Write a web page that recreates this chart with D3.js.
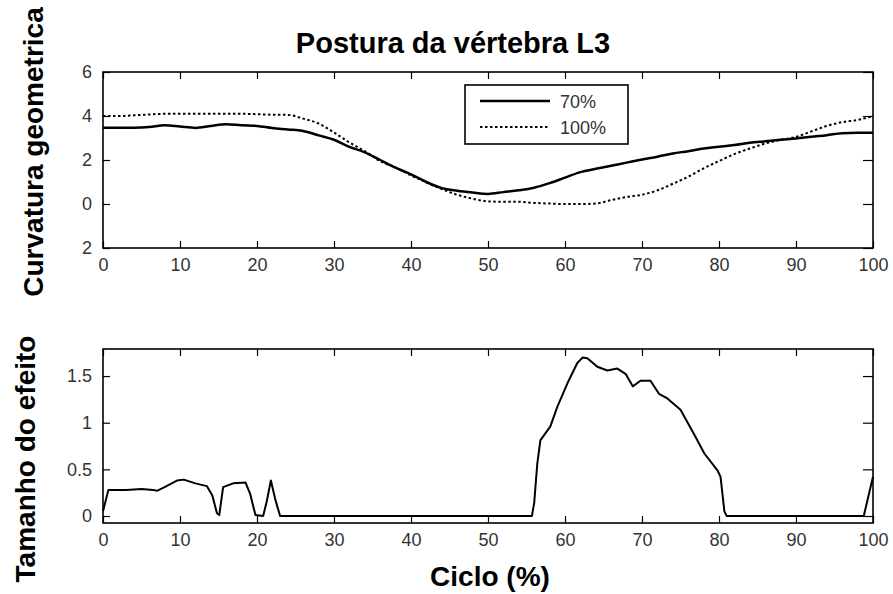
<!DOCTYPE html>
<html>
<head>
<meta charset="utf-8">
<script src="https://cdn.jsdelivr.net/npm/d3@7"></script>
<style>
    body { margin: 0; background: #fff; }
    svg { display: block; font-family: Arial, "Liberation Sans", sans-serif; }
    .tick text { fill: #333; font-size: 18px; }
    .tick line { stroke: #000; stroke-width: 1.2; }
</style>
</head>
<body>
<svg id="chart"></svg>
<script>

// Data
var cycle = [0, 2, 4, 6, 8, 10, 12, 14, 16, 18, 20, 22, 24, 26, 28, 30, 32, 34, 36, 38, 40,
    42, 44, 46, 48, 50, 52, 54, 56, 58, 60, 62, 64, 66, 68, 70, 72, 74, 76, 78, 80,
    82, 84, 86, 88, 90, 92, 94, 96, 98, 100];
var curv70 = [3.47, 3.47, 3.47, 3.50, 3.58, 3.52, 3.46, 3.55, 3.63, 3.58, 3.55, 3.45, 3.39, 3.32, 3.12, 2.92, 2.60, 2.35, 2.00, 1.65, 1.35,
    1.00, 0.72, 0.60, 0.52, 0.46, 0.54, 0.62, 0.74, 0.95, 1.20, 1.45, 1.60, 1.74, 1.88, 2.02, 2.15, 2.30, 2.40, 2.52, 2.60,
    2.68, 2.78, 2.85, 2.92, 2.98, 3.06, 3.13, 3.22, 3.24, 3.24];
var curv100 = [4.00, 4.00, 4.03, 4.07, 4.10, 4.10, 4.10, 4.10, 4.10, 4.10, 4.08, 4.06, 4.05, 3.88, 3.66, 3.25, 2.80, 2.40, 1.95, 1.65, 1.30,
    0.98, 0.68, 0.42, 0.24, 0.12, 0.10, 0.10, 0.05, 0.02, 0.00, 0.00, 0.02, 0.18, 0.32, 0.42, 0.62, 0.92, 1.24, 1.62, 1.95,
    2.27, 2.52, 2.75, 2.91, 3.05, 3.30, 3.55, 3.72, 3.82, 4.00];

var effX = [0, 0.7, 3, 5, 6.5, 7, 8, 9.6, 10.5, 12, 13.5, 14.2, 14.8, 15.1, 15.6, 16.9, 18.5, 19.1, 19.8, 20.8, 21.3, 21.8, 22.4, 23,
    55.7, 56, 56.4, 56.8, 58.1, 59, 60.3, 61.6, 62.3, 62.9, 64.2, 65.5, 66.8, 67.9, 68.8, 69.8, 71.1, 72.2, 73.3, 75,
    76.8, 78.1, 79.8, 80.2, 80.7, 81, 98.8, 100];
var effY = [0.05, 0.28, 0.28, 0.29, 0.28, 0.27, 0.31, 0.38, 0.39, 0.35, 0.32, 0.22, 0.03, 0.01, 0.31, 0.35, 0.36, 0.24, 0.01, 0.0, 0.17, 0.38, 0.17, 0.0,
    0.0, 0.14, 0.56, 0.81, 0.96, 1.17, 1.42, 1.64, 1.70, 1.69, 1.60, 1.56, 1.58, 1.52, 1.39, 1.45, 1.45, 1.31, 1.26, 1.14,
    0.87, 0.67, 0.49, 0.42, 0.05, 0.0, 0.0, 0.42];

var xTicks = [0, 10, 20, 30, 40, 50, 60, 70, 80, 90, 100];
var curvTicks = [-2, 0, 2, 4, 6];
var curvTickLabels = ["2", "0", "2", "4", "6"];   // the minus sign is lost in the original
var effTicks = [0, 0.5, 1, 1.5];
var legendNames = ["70%", "100%"];

var width = 893;
var height = 594;

var svg = d3.select("#chart")
    .attr("width", width)
    .attr("height", height);

var x = d3.scaleLinear().domain([0, 100]).range([103, 873]);
var yTop = d3.scaleLinear().domain([-2, 6]).range([248, 72]);
var yBot = d3.scaleLinear().domain([-0.075, 1.79]).range([523, 349]);

// Draw one boxed panel with inward ticks on all four sides (MATLAB style)
function drawPanel(y, yTicks, yFormat) {
    var g = svg.append("g");
    var y0 = y.range()[0], y1 = y.range()[1];

    g.append("g").attr("transform", "translate(0," + y0 + ")")
        .call(d3.axisBottom(x).tickValues(xTicks).tickSizeInner(-7).tickSizeOuter(0).tickPadding(10));
    g.append("g").attr("transform", "translate(0," + y1 + ")")
        .call(d3.axisTop(x).tickValues(xTicks).tickSizeInner(-7).tickSizeOuter(0).tickFormat(""));
    g.append("g").attr("transform", "translate(" + x.range()[0] + ",0)")
        .call(d3.axisLeft(y).tickValues(yTicks).tickSizeInner(-7).tickSizeOuter(0).tickPadding(11).tickFormat(yFormat));
    g.append("g").attr("transform", "translate(" + x.range()[1] + ",0)")
        .call(d3.axisRight(y).tickValues(yTicks).tickSizeInner(-10).tickSizeOuter(0).tickFormat(""));

    g.selectAll(".domain").remove();

    g.append("rect")
        .attr("x", x.range()[0]).attr("y", y1)
        .attr("width", x.range()[1] - x.range()[0]).attr("height", y0 - y1)
        .attr("fill", "none").attr("stroke", "#000").attr("stroke-width", 1.6);
    return g;
}

drawPanel(yTop, curvTicks, function (d, i) { return curvTickLabels[i]; });
drawPanel(yBot, effTicks, function (d) { return d; });

// Top panel curves
var lineTop = d3.line()
    .x(function (d) { return x(d[0]); })
    .y(function (d) { return yTop(d[1]); })
    .curve(d3.curveMonotoneX);

svg.append("path")
    .datum(d3.zip(cycle, curv100))
    .attr("d", lineTop)
    .attr("fill", "none").attr("stroke", "#000")
    .attr("stroke-width", 2).attr("stroke-dasharray", "2.5,2.5");

svg.append("path")
    .datum(d3.zip(cycle, curv70))
    .attr("d", lineTop)
    .attr("fill", "none").attr("stroke", "#000")
    .attr("stroke-width", 2.5);

// Bottom panel: effect size
var lineBot = d3.line()
    .x(function (d) { return x(d[0]); })
    .y(function (d) { return yBot(d[1]); });

svg.append("path")
    .datum(d3.zip(effX, effY))
    .attr("d", lineBot)
    .attr("fill", "none").attr("stroke", "#000")
    .attr("stroke-width", 2).attr("stroke-linejoin", "round");

// Legend
var legend = svg.append("g");
legend.append("rect")
    .attr("x", 465).attr("y", 85).attr("width", 163).attr("height", 59)
    .attr("fill", "#fff").attr("stroke", "#000").attr("stroke-width", 1.6);

legend.selectAll("line.key").data(legendNames).enter().append("line")
    .attr("class", "key")
    .attr("x1", 480).attr("x2", 550)
    .attr("y1", function (d, i) { return 101 + i * 26; })
    .attr("y2", function (d, i) { return 101 + i * 26; })
    .attr("stroke", "#000")
    .attr("stroke-width", function (d, i) { return i ? 2 : 2.5; })
    .attr("stroke-dasharray", function (d, i) { return i ? "2.5,2.5" : null; });

legend.selectAll("text").data(legendNames).enter().append("text")
    .attr("x", 560)
    .attr("y", function (d, i) { return 108 + i * 26; })
    .attr("font-size", 18).attr("fill", "#333")
    .text(function (d) { return d; });

// Titles and axis labels
svg.append("text")
    .attr("x", 453).attr("y", 53)
    .attr("text-anchor", "middle")
    .attr("font-size", 29).attr("font-weight", "bold")
    .text("Postura da vértebra L3");

svg.append("text")
    .attr("transform", "translate(43,152)rotate(-90)")
    .attr("text-anchor", "middle")
    .attr("font-size", 28).attr("font-weight", "bold")
    .text("Curvatura geometrica");

svg.append("text")
    .attr("transform", "translate(35,459)rotate(-90)")
    .attr("text-anchor", "middle")
    .attr("font-size", 28).attr("font-weight", "bold")
    .text("Tamanho do efeito");

svg.append("text")
    .attr("x", 490).attr("y", 586)
    .attr("text-anchor", "middle")
    .attr("font-size", 28).attr("font-weight", "bold")
    .text("Ciclo (%)");

</script>
</body>
</html>
